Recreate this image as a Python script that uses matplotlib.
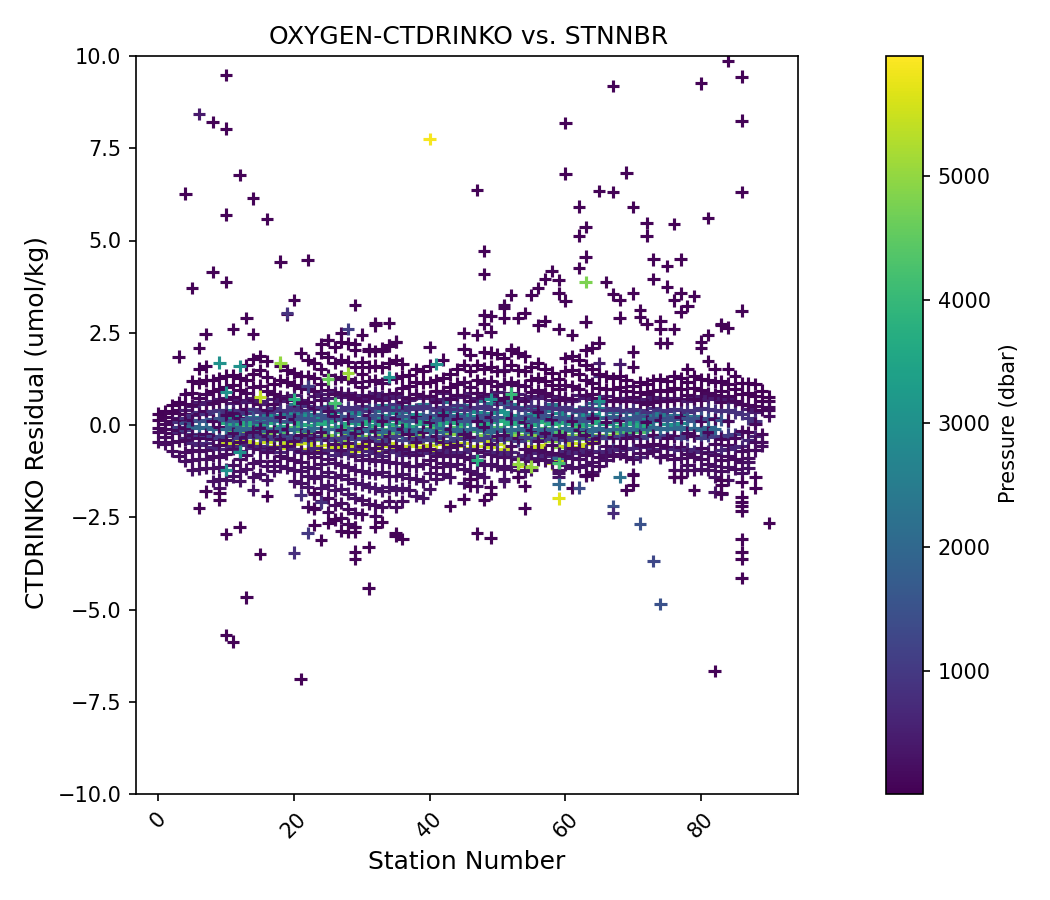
import matplotlib
matplotlib.use("Agg")
import matplotlib.pyplot as plt

TITLE = "OXYGEN-CTDRINKO vs. STNNBR"
XLABEL = "Station Number"
YLABEL = "CTDRINKO Residual (umol/kg)"
CBLABEL = "Pressure (dbar)"

# Bottle pressures by position within a station's row (dbar)
deep_levels = [2500, 3100, 3700, 4300, 4900, 5500]
mid_levels = [450, 650, 850, 1100, 1500, 2000]
shallow_levels = [40, 70, 100, 130, 170, 200, 240, 280, 330, 200, 150, 110, 80, 60, 50, 40]
dark_outlier_level = 70

# Residuals in 0.01 umol/kg, keyed by station number
deep_rows = {
 10:[42,20,6,-10,-30,-48],11:[36,24,4,-14,-26,-40],12:[30,18,0,-12,-34,-52],13:[44,16,8,-6,-22,-44],14:[34,22,2,-16,-28,-50],
 15:[40,14,-2,-18,-36,-60],16:[28,20,6,-8,-24,-46],17:[46,26,10,-12,-30,-56],18:[38,12,-4,-20,-42,-62],19:[32,24,8,-10,-26,-48],
 20:[56,30,12,-6,-30,-52],21:[36,18,4,-16,-38,-64],22:[42,26,0,-14,-24,-50],23:[30,22,10,-8,-34,-58],24:[48,16,2,-20,-40,-66],
 25:[52,28,8,-12,-28,-54],26:[60,34,14,-6,-32,-60],27:[40,20,-2,-18,-44,-68],28:[46,24,6,-10,-26,-56],29:[36,30,12,-14,-38,-70],
 30:[50,18,4,-16,-30,-52],31:[44,26,10,-8,-36,-64],32:[38,22,0,-20,-42,-72],33:[54,28,8,-12,-24,-58],34:[42,16,2,-18,-34,-50],
 35:[48,32,14,-6,-28,-62],36:[36,20,6,-14,-40,-66],37:[52,24,-4,-22,-38,-56],38:[44,30,10,-10,-26,-48],39:[58,18,4,-16,-32,-60],
 40:[46,26,12,-8,-36,-54],41:[40,22,0,-20,-44,-68],42:[62,34,8,-12,-30,-52],43:[38,18,6,-18,-24,-46],44:[50,28,14,-6,-34,-58],
 45:[54,30,4,-14,-28,-50],46:[42,24,10,-10,-38,-62],47:[66,36,12,-16,-32,-56],48:[48,20,2,-8,-26,-44],49:[60,32,8,-20,-36,-60],
 50:[72,40,16,-6,-30,-52],51:[66,34,10,-14,-42,-64],52:[58,28,4,-18,-34,-72],53:[50,24,12,-10,-28,-90],54:[44,20,6,-16,-40,-110],
 55:[52,30,0,-12,-26,-58],56:[46,26,8,-20,-36,-62],57:[38,18,10,-8,-30,-54],58:[56,22,2,-14,-44,-104],59:[48,32,6,-18,-60,-96],
 60:[40,24,12,-10,-34,-56],61:[44,16,4,-16,-28,-48],62:[34,20,8,-6,-38,-60],63:[50,26,0,-20,-30,-52],64:[60,30,10,-12,-26,-44],
 65:[46,22,6,-14,-36],66:[40,18,2,-10,-28],67:[36,24,8,-16,-32],68:[42,20,-2,-8,-24],69:[34,14,4,-18],70:[38,22,6,-12],
 71:[30,12,-4,-20],72:[36,18,2,-14],73:[28,10,-6],74:[32,14,-8],75:[26,4,-10],76:[22,-4],77:[28,6],78:[18,-8],79:[24],80:[14],
}
mid_rows = {
 3:[20,-18,8,-6],4:[42,-36,20,-14,6],5:[52,-48,28,-24,10,-4],6:[62,-55,35,-30,14,-8],7:[58,-50,30,-26,12,-6],8:[66,-60,38,-30,16,-10],
 9:[70,-64,40,-34,20,-8],10:[72,-66,36,-30,14,-12],11:[60,-58,34,-28,10,-6],12:[68,-70,42,-36,18,-14],13:[62,-54,32,-24,16,-8],
 14:[74,-62,44,-32,20,-12],15:[66,-56,36,-28,8,-6],16:[58,-68,34,-38,18,-16],17:[70,-60,46,-30,14,-10],18:[64,-72,38,-34,22,-8],
 19:[76,-58,40,-26,12,-14],20:[82,-66,48,-36,24,-10],21:[68,-74,42,-32,16,-12],22:[105,-70,52,-40,20,-16],23:[78,-62,44,-30,14,-8],
 24:[84,-76,50,-38,26,-18],25:[72,-68,46,-34,18,-12],26:[90,-80,54,-42,22,-10],27:[76,-72,40,-36,16,-14],28:[86,-78,48,-30,24,-20],
 29:[70,-66,44,-38,12,-8],30:[80,-82,52,-34,20,-16],31:[74,-70,38,-40,18,-12],32:[88,-76,46,-32,26,-10],33:[78,-84,50,-44,14,-18],
 34:[72,-68,42,-36,22,-14],35:[82,-74,56,-30,16,-8],36:[76,-80,40,-42,24,-20],37:[68,-72,48,-34,12,-10],38:[84,-78,44,-38,20,-16],
 39:[74,-70,52,-32,18,-12],40:[78,-76,46,-40,26,-14],41:[70,-82,42,-36,14,-18],42:[86,-68,50,-30,22,-8],43:[72,-74,44,-44,16,-16],
 44:[80,-78,54,-34,24,-10],45:[76,-72,40,-38,12,-20],46:[88,-66,48,-32,20,-12],47:[74,-84,46,-42,18,-8],48:[82,-70,52,-36,26,-14],
 49:[78,-76,44,-30,14,-18],50:[90,-72,56,-40,22,-10],51:[150,-80,110,-34,60,-16],52:[86,-74,50,-38,16,-12],53:[84,-88,46,-44,20,-14],
 54:[70,-82,42,-32,24,-8],55:[78,-90,52,-36,12,-18],56:[72,-76,40,-42,18,-10],57:[82,-84,48,-30,26,-16],58:[68,-78,46,-38,14,-12],
 59:[76,-86,44,-34,22,-90],60:[74,-70,50,-40,16,-8],61:[66,-76,42,-32,20,-14],62:[80,-72,38,-36,18,-10],63:[72,-68,46,-28,12,-12],
 64:[70,-74,44,-38,24,-16],65:[168,-70,134,-30,60,-8],66:[78,-72,40,-34,18,-14],67:[66,-64,46,-36,22,-10],68:[164,-68,42,-30,14,-12],
 69:[72,-66,38,-28,20,-8],70:[74,-62,44,-32,16,-14],71:[68,-86,40,-34,24,-10],72:[70,-60,36,-30,12,-12],73:[76,-64,46,-26,18,-6],
 74:[72,-88,42,-32,20,-10],75:[68,-62,38,-28,14,-8],76:[74,-66,44,-30,22,-12],77:[70,-68,40,-34,16,-6],78:[66,-64,36,-26,18,-10],
 79:[72,-70,42,-30,12,-8],80:[78,-74,46,-34,20,-14],81:[70,-72,44,-28,16,-6],82:[74,-78,40,-32,18,-10],83:[66,-68,38,-30,14],
 84:[70,-66,42,-26,10],85:[62,-60,34,-24],86:[58,-58,30,-20],87:[44,-40,18],88:[36,-30,10],
}
shallow_rows = {
 0:[31,14,-8,-19,-46],1:[37,21,4,-12,-33,-52],2:[54,33,11,-21,-47,-71],3:[63,41,17,-13,-44,-84],
 4:[84,57,29,-9,-41,-73,-97],5:[119,88,53,14,-27,-69,-96,-122],6:[153,114,72,31,-36,-71,-93,-118],7:[159,121,83,38,-24,-67,-91,-116],
 8:[122,91,59,12,-39,-83,-117,-152],9:[127,98,64,-6,-53,-87,-114,-147,-171],10:[134,103,71,27,-41,-79,-121,-149],11:[136,109,76,33,-22,-64,-108,-139],
 12:[127,96,61,18,-47,-93,-124,-151],13:[162,122,87,44,-33,-81,-119],14:[179,137,102,67,-18,-58,-103,-141,-176],15:[186,148,107,58,-9,-66,-98,-133],
 16:[173,131,93,41,-29,-74,-111,-149],17:[112,84,56,-17,-62,-97,-124],18:[161,121,78,22,-38,-83,-112],19:[149,116,73,-11,-57,-89,-117],
 20:[141,108,67,16,-44,-94,-122,-153],21:[132,101,59,-26,-71,-99,-126,-156],22:[176,133,97,62,-28,-77,-113,-137,-168,-221],23:[167,127,91,47,-36,-86,-116,-143,-187,-227],
 24:[196,152,111,68,-19,-74,-107,-139,-172,-206],25:[231,183,136,94,39,-42,-91,-128,-163,-197,-236],26:[212,168,124,83,24,-51,-103,-142,-177,-216,-257],27:[226,177,131,88,-13,-69,-108,-136,-174,-212,-252,-286],
 28:[221,172,126,81,17,-48,-114,-147,-186,-228,-268],29:[202,157,116,74,-22,-83,-121,-158,-198,-238,-277],30:[171,138,104,66,-7,-58,-94,-126,-161,-203,-242],31:[206,158,119,78,26,-44,-92,-129,-168,-213],
 32:[201,161,122,77,-16,-63,-97,-133,-172,-217,-247],33:[207,156,113,69,12,-52,-96,-127,-178,-222],34:[216,167,124,83,-31,-72,-101,-138,-169,-206],35:[226,176,127,86,19,-56,-104,-137,-176,-222],
 36:[166,132,99,61,-12,-66,-102,-134,-171,-207],37:[136,106,74,-24,-76,-111,-143,-177],38:[152,117,84,23,-46,-82,-112,-147,-192],39:[146,115,79,-18,-68,-106,-153,-197],
 40:[161,116,79,9,-64,-96,-131,-173],41:[121,93,63,-29,-83,-113,-146],42:[177,127,92,28,-47,-76,-103,-133],43:[137,102,71,-11,-59,-85,-112,-142],
 44:[151,112,81,17,-54,-81,-107],45:[206,163,117,82,-24,-87,-119,-157],46:[191,147,104,64,-33,-93,-126,-147],47:[162,122,87,12,-67,-101,-132,-166],
 48:[197,153,114,78,-6,-73,-108,-142],49:[196,158,118,83,22,-52,-78,-107],50:[192,147,106,68,-31,-84,-111],51:[182,147,112,74,-26,-88,-119,-146,-153],
 52:[202,162,117,79,18,-58,-86,-112],53:[196,148,109,72,-34,-91,-122,-141],54:[186,147,107,66,8,-64,-92,-126],55:[157,122,89,-14,-72,-97,-121],
 56:[167,127,94,36,-43,-69,-93],57:[152,119,86,-22,-74,-96],58:[142,108,79,16,-53,-78,-101],59:[126,97,68,-27,-77,-102,-122,-131,-142],
 60:[182,147,109,73,-33,-84,-109],61:[187,148,106,71,12,-62,-89,-116],62:[177,137,98,-13,-65,-91,-113],63:[202,163,121,81,-28,-82,-109,-137],
 64:[152,114,83,19,-49,-74,-99,-127],65:[137,101,72,-34,-87,-111],66:[132,98,68,8,-58,-81,-96],67:[127,97,66,-32,-83],
 68:[132,102,73,14,-56,-79],69:[122,92,64,-36,-61,-86],70:[199,158,106,76,-33,-91,-134],71:[117,89,62,-29,-53,-76],
 72:[112,84,57,9,-57,-76],73:[122,92,63,-27,-52,-71],74:[124,95,66,13,-55,-86],75:[119,91,64,-35,-59,-81],
 76:[132,99,69,-31,-92,-121,-141],77:[127,97,68,21,-59,-89,-122,-142],78:[152,116,82,-21,-79,-109,-123],79:[132,101,71,-29,-87,-121],
 80:[124,95,67,11,-61,-91,-119],81:[173,123,87,-19,-77,-106,-121],82:[152,117,82,16,-51,-81,-111,-141,-181],83:[119,91,62,-37,-96,-126,-186],
 84:[153,112,79,12,-53,-83,-113,-149],85:[132,97,66,-35,-91,-119],86:[113,85,57,-17,-71,-101,-131],87:[113,86,55,-19,-69,-89,-101,-116],
 88:[111,79,51,4,-45,-69],89:[93,66,41,-25,-46,-56],90:[77,65,50,40,25],
}
dark_outliers = {
 3:[185],4:[627],5:[371],6:[208,-225],7:[247,-180],8:[821,414],9:[-203,-185],10:[949,803,570,388,-295,-569],11:[260,-587],
 12:[678,-276],13:[290,-467],14:[614,247],15:[-350],16:[558,-192],18:[443],19:[300],20:[339],21:[195,-689],22:[447],23:[-271,-225,-185],
 24:[220,-312],25:[230,-266],26:[-255],27:[250],28:[-290],29:[325,220,-276,-290,-343,-363],30:[245],31:[200,-443,-330],32:[276,270,-276],
 33:[200,-263],34:[277,215],35:[225,-293,-300],36:[-309],40:[212],43:[-220],45:[250,-200],46:[-145,-165],47:[637,244,-294],
 48:[471,409,298,275,-203],49:[295,253,-305,-167,-187],51:[325,318,290],52:[352,205],53:[290,-140],54:[303,-226,-165],55:[352],56:[371,270],
 57:[395,282],58:[418],59:[393,357,260],60:[819,681,337],61:[244,-170],62:[592,513,425],63:[537,456,280,-135],64:[210,-135],65:[634,223],
 66:[388],67:[919,631,354],68:[339,291],69:[684,-176],70:[591,357,-135,-163],71:[312,294],72:[548,513,274],73:[449,395],74:[282,260,222],
 75:[431,375,222],76:[545,338,260,-140],77:[449,357,307,-140],78:[322],79:[350,-176],80:[926,226,210],81:[561,244],82:[-666],
 83:[274,270,-163,-185,-150],84:[987,264],86:[944,825,632,310,-155,-194,-208,-220,-233,-310,-345,-363,-415],88:[-142,-171],90:[-265],
}

# Coloured isolated points
color_station = [6,9,12,18,10,10,12,15,20,26,28,25,34,41,19,22,21,22,24,28,20,63,59,59,62,68,67,67,71,73,74,40,55,53,47,59,52,49,65]
color_resid = [843,169,160,169,90,-122,-72,77,70,60,140,125,130,165,304,105,-190,-293,-210,260,-346,388,-199,-160,-170,-141,-219,-238,-267,-369,-485,775,-113,-105,-95,-103,85,70,65]
color_press = [420,3000,3000,5000,3000,3000,3000,5400,3800,4200,5100,4600,3000,3000,900,1100,800,1000,800,1100,800,4800,5700,2000,1400,2200,1500,700,1500,1300,1500,5900,5000,5000,3800,4200,4000,3000,3000]

stations, resids, press = [], [], []
# Deep bottles lie underneath; each station's mid and shallow bottles follow in station order
for stn, row in deep_rows.items():
    for r, p in zip(row, deep_levels):
        stations.append(stn)
        resids.append(r / 100)
        press.append(p)
for stn in range(91):
    for rows, levels in ((mid_rows, mid_levels), (shallow_rows, shallow_levels)):
        for r, p in zip(rows.get(stn, []), levels):
            stations.append(stn)
            resids.append(r / 100)
            press.append(p)
for stn, row in dark_outliers.items():
    for r in row:
        stations.append(stn)
        resids.append(r / 100)
        press.append(dark_outlier_level)
for stn, r, p in zip(color_station, color_resid, color_press):
    stations.append(stn)
    resids.append(r / 100)
    press.append(p)

W, H = 1050, 900
fig = plt.figure(figsize=(7, 6), dpi=150)
ax = fig.add_axes([136 / W, 1 - 794 / H, 662 / W, 738 / H])
cax = fig.add_axes([886 / W, 1 - 794 / H, 37 / W, 738 / H])
sc = ax.scatter(stations, resids, c=press, marker="+", cmap="viridis", vmin=5, vmax=5970)
ax.set_xlim(-3.28, 94.3)
ax.set_ylim(-10, 10)
ax.tick_params(axis="x", labelrotation=45)
ax.set_title(TITLE, fontsize=12, x=0.502)
ax.set_xlabel(XLABEL, fontsize=12)
ax.set_ylabel(YLABEL, fontsize=12, y=0.503)
cb = fig.colorbar(sc, cax=cax)
cb.set_label(CBLABEL, y=0.502)
cb.set_ticks([1000, 2000, 3000, 4000, 5000])
fig.savefig("out.png", dpi=150)
